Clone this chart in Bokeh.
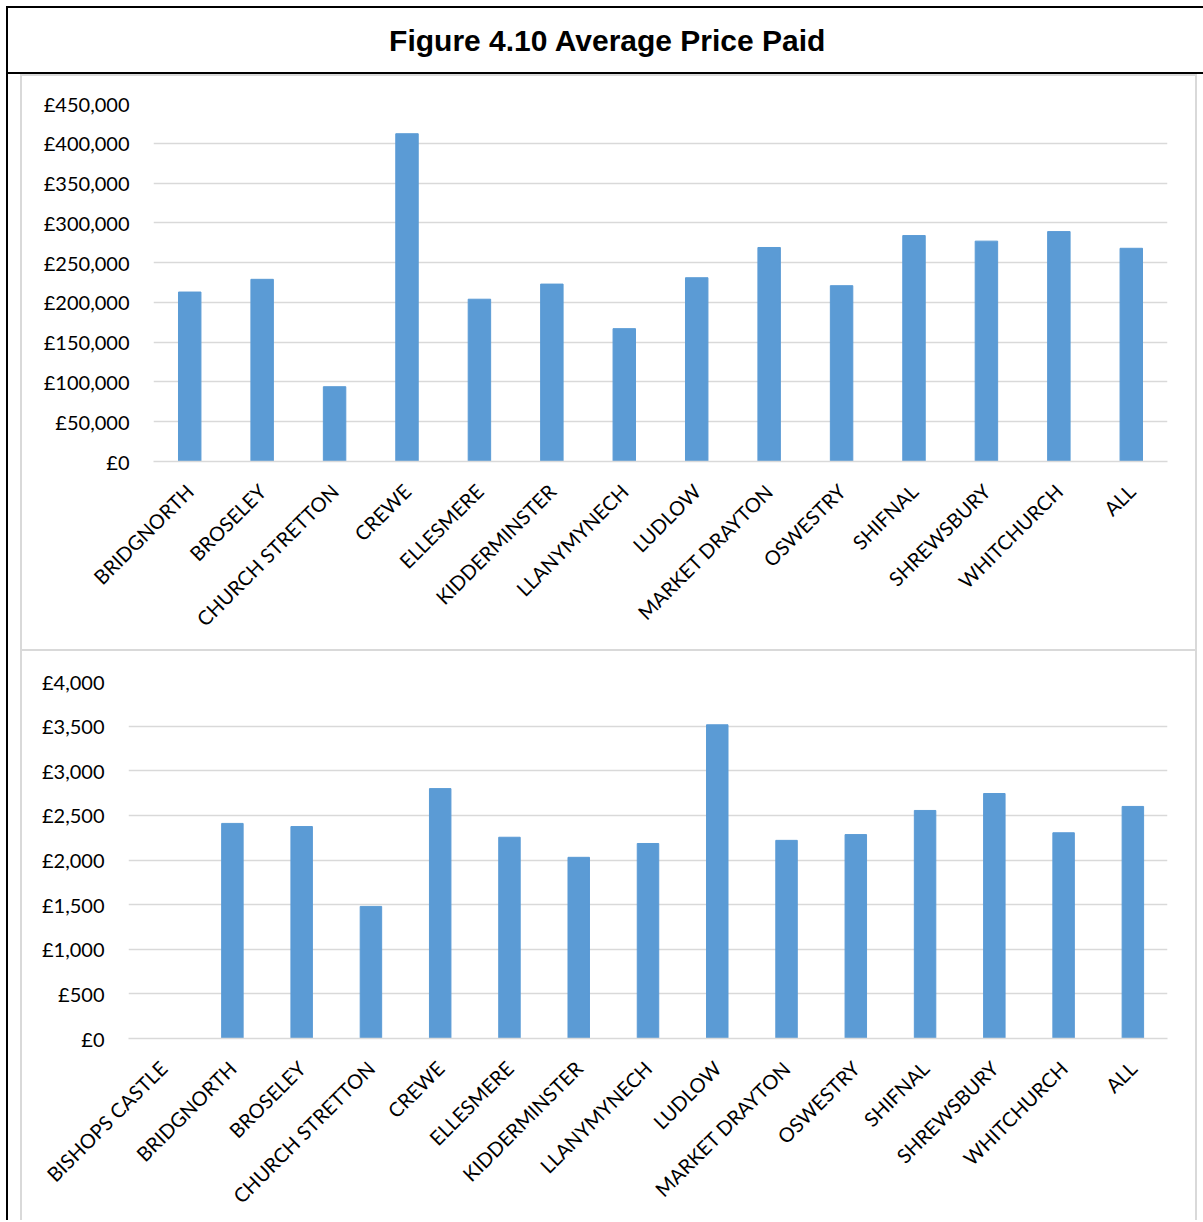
import math
from bokeh.plotting import figure
from bokeh.models import FactorRange, Range1d, FixedTicker, Spacer
from bokeh.layouts import column, row
from bokeh.embed import file_html
from bokeh.resources import INLINE
from bokeh.core.properties import value

TITLE = "Figure 4.10  Average Price Paid"

top_categories = ["BRIDGNORTH", "BROSELEY", "CHURCH STRETTON", "CREWE", "ELLESMERE",
                  "KIDDERMINSTER", "LLANYMYNECH", "LUDLOW", "MARKET DRAYTON", "OSWESTRY",
                  "SHIFNAL", "SHREWSBURY", "WHITCHURCH", "ALL"]
top_values = [213000, 229000, 94000, 412000, 204000, 223000, 167000, 231000, 269000,
              221000, 284000, 277000, 289000, 268000]
top_ticks = [0, 50000, 100000, 150000, 200000, 250000, 300000, 350000, 400000, 450000]
top_tick_labels = ["£0", "£50,000", "£100,000", "£150,000", "£200,000", "£250,000",
                   "£300,000", "£350,000", "£400,000", "£450,000"]

bottom_categories = ["BISHOPS CASTLE", "BRIDGNORTH", "BROSELEY", "CHURCH STRETTON", "CREWE",
                     "ELLESMERE", "KIDDERMINSTER", "LLANYMYNECH", "LUDLOW", "MARKET DRAYTON",
                     "OSWESTRY", "SHIFNAL", "SHREWSBURY", "WHITCHURCH", "ALL"]
bottom_values = [0, 2410, 2375, 1480, 2800, 2255, 2030, 2185, 3515, 2220, 2285, 2555,
                 2745, 2305, 2600]
bottom_ticks = [0, 500, 1000, 1500, 2000, 2500, 3000, 3500, 4000]
bottom_tick_labels = ["£0", "£500", "£1,000", "£1,500", "£2,000", "£2,500", "£3,000",
                      "£3,500", "£4,000"]

BAR = "#5b9bd5"
GRID = "#d9d9d9"
FONT = "Lato"


def chart(cats, vals, ticks, labels, ymax, w, h, ml, mr, mt, mb):
    p = figure(x_range=FactorRange(*cats, range_padding=0), y_range=Range1d(0, ymax),
               width=w, height=h, output_backend="svg", toolbar_location=None,
               min_border_left=ml, min_border_right=mr, min_border_top=mt,
               min_border_bottom=mb)
    p.vbar(x=cats, top=vals, width=0.31, color=BAR)
    p.outline_line_color = None
    p.xgrid.grid_line_color = None
    p.ygrid.grid_line_color = GRID
    p.ygrid.grid_line_width = 1.5
    p.yaxis.ticker = FixedTicker(ticks=ticks)
    p.yaxis.major_label_overrides = {t: l for t, l in zip(ticks, labels)}
    p.yaxis.axis_line_color = None
    p.yaxis.major_tick_line_color = None
    p.yaxis.minor_tick_line_color = None
    p.yaxis.major_label_standoff = 18
    p.yaxis.major_label_text_font = FONT
    p.yaxis.major_label_text_font_size = "20px"
    p.yaxis.major_label_text_color = "#000000"
    p.xaxis.axis_line_color = GRID
    p.xaxis.axis_line_width = 1.5
    p.xaxis.major_tick_line_color = None
    p.xaxis.minor_tick_line_color = None
    p.xaxis.major_label_orientation = math.pi / 4
    p.xaxis.major_label_standoff = 20
    p.xaxis.major_label_text_font = FONT
    p.xaxis.major_label_text_font_size = "20px"
    p.xaxis.major_label_text_color = "#000000"
    return p


# title box (right border falls outside the page, as in the reference)
tp = figure(x_range=Range1d(0, 1), y_range=Range1d(0, 1), width=1195, height=64,
            output_backend="svg", toolbar_location=None, min_border=0)
tp.axis.visible = False
tp.grid.visible = False
tp.outline_line_color = None
tp.text(x=[0.505], y=[0.5], text=[TITLE], text_align="center", text_baseline="middle",
        text_font=value("Liberation Sans"), text_font_style="bold",
        text_font_size="30px", text_color="black")

p1 = chart(top_categories, top_values, top_ticks, top_tick_labels, 450000,
           1173, 573, 131, 28, 27, 188)
p2 = chart(bottom_categories, bottom_values, bottom_ticks, bottom_tick_labels, 4000,
           1173, 569, 106, 28, 30, 182)


def line(w, h, c):
    return Spacer(width=w, height=h, styles={"background-color": c})


title_box = column(
    line(1197, 2, "black"),
    row(line(2, 64, "black"), tp),
    line(1197, 2, "black"),
)
charts = column(
    line(1177, 2, GRID),
    row(line(2, 573, GRID), p1, line(2, 573, GRID)),
    line(1177, 2, GRID),
    row(line(2, 569, GRID), p2, line(2, 569, GRID)),
)
body = row(line(2, 1146, "black"), Spacer(width=12, height=1146), charts)
inner = column(title_box, body)
layout = column(Spacer(width=1197, height=6), row(Spacer(width=6, height=1214), inner))

open("out.html", "w").write(file_html(layout, INLINE))
